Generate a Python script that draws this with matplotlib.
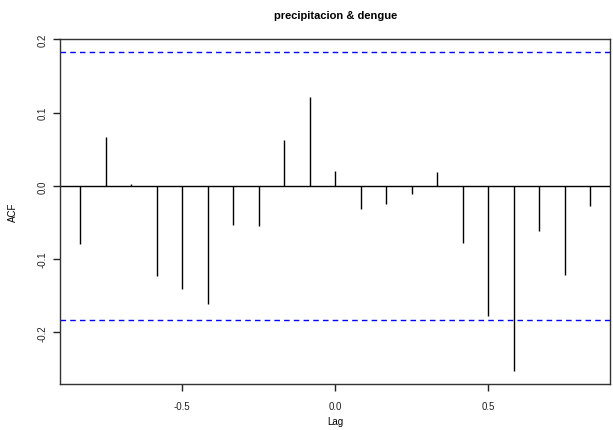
import numpy as np
import matplotlib
matplotlib.use("Agg")
import matplotlib.pyplot as plt

plt.rcParams['font.family'] = ['Liberation Sans', 'DejaVu Sans']

# cross-correlation of monthly precipitation vs dengue cases (lags in years)
lag_months = [-10, -9, -8, -7, -6, -5, -4, -3, -2, -1, 0,
              1, 2, 3, 4, 5, 6, 7, 8, 9, 10]
acf_values = [-0.079, 0.067, 0.002, -0.123, -0.141, -0.161, -0.054, -0.055,
              0.063, 0.122, 0.021, -0.032, -0.024, -0.011, 0.019, -0.078,
              -0.177, -0.253, -0.062, -0.121, -0.028]
conf_limit = 0.1835
title = "precipitacion & dengue"

lags = np.array(lag_months) / 12.0
acf = np.array(acf_values)

fig = plt.figure(figsize=(6.13, 4.31), dpi=100)
ax = fig.add_axes([0.0979, 0.1067, 0.898, 0.801])

ax.vlines(lags, 0, acf, color='black', linewidth=1)
ax.axhline(0, color='black', linewidth=1)
for c in (conf_limit, -conf_limit):
    ax.axhline(c, color='blue', linestyle=(0, (4, 3)), linewidth=1)

# R-style 4% padding on both axes
ylo = min(acf.min(), -conf_limit)
yhi = max(acf.max(), conf_limit)
pad_y = 0.04 * (yhi - ylo)
pad_x = 0.04 * (lags.max() - lags.min())
ax.set_xlim(lags.min() - pad_x, lags.max() + pad_x)
ax.set_ylim(ylo - pad_y, yhi + pad_y)

ax.set_xticks([-0.5, 0.0, 0.5])
ax.set_xticklabels(['-0.5', '0.0', '0.5'])
ax.set_yticks([-0.2, -0.1, 0.0, 0.1, 0.2])
ax.set_yticklabels(['-0.2', '-0.1', '0.0', '0.1', '0.2'],
                   rotation=90, va='center')
ax.tick_params(direction='out', length=5, width=1, labelsize=7,
               colors='#222222')
ax.tick_params(axis='x', pad=7)
ax.tick_params(axis='y', pad=4)
for s in ax.spines.values():
    s.set_color('#333333')
    s.set_linewidth(1)

ax.set_xlabel('Lag', fontsize=7, labelpad=4)
ax.set_ylabel('ACF', fontsize=7, labelpad=14)
ax.set_title(title, fontsize=8, fontweight='bold', pad=15)

fig.savefig('out.png', dpi=100)
